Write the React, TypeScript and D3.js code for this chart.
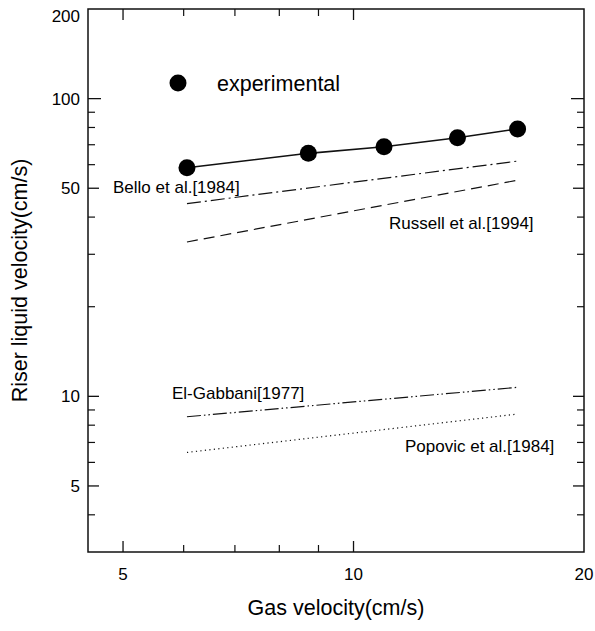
import React from "react";
import * as d3 from "d3";

const gasVelocity = [6.06, 8.73, 10.96, 13.67, 16.38];
const experimental = [58.6, 65.5, 68.9, 73.9, 79.1];

const lineX = [6.06, 16.38];
const bello = [44.4, 61.7];
const russell = [33.0, 53.2];
const elGabbani = [8.54, 10.72];
const popovic = [6.48, 8.72];

const xTickLabels = [5, 10, 20];
const xMinorTicks = [6, 7, 8, 9];
const yTickLabels = [5, 10, 50, 100, 200];
const yMinorTicks = [4, 6, 7, 8, 9, 20, 30, 40, 60, 70, 80, 90];

const W = 595;
const H = 631;
const M = { left: 88, top: 9, right: 11, bottom: 79 };
const FONT = "'Liberation Sans', Arial, Helvetica, sans-serif";

export default function App() {
  const x = d3.scaleLog().domain([4.5, 20]).range([M.left, W - M.right]);
  const y = d3.scaleLog().domain([3, 200]).range([H - M.bottom, M.top]);
  const x0 = M.left, x1 = W - M.right, y0 = H - M.bottom, y1 = M.top;

  const line = d3
    .line<[number, number]>()
    .x((d) => x(d[0]))
    .y((d) => y(d[1]));

  const pairs = (xs: number[], ys: number[]) => xs.map((v, i) => [v, ys[i]] as [number, number]);

  const curves = [
    { data: bello, dash: "14,4,2,4", label: "Bello et al.[1984]", lx: 113, ly: 193 },
    { data: russell, dash: "11,6", label: "Russell et al.[1994]", lx: 389, ly: 229 },
    { data: elGabbani, dash: "14,3,1.5,3,1.5,3", label: "El-Gabbani[1977]", lx: 172, ly: 399 },
    { data: popovic, dash: "1.2,3.3", label: "Popovic et al.[1984]", lx: 405, ly: 452 },
  ];

  const majorLen = 11;
  const minorLen = 7;
  const stroke = "#111";

  return (
    <svg width={W} height={H} style={{ display: "block", position: "absolute", left: 0, top: 0 }} fontFamily={FONT}>
      <rect x={0} y={0} width={W} height={H} fill="#fff" />
      {/* frame */}
      <rect x={x0} y={y1} width={x1 - x0} height={y0 - y1} fill="none" stroke={stroke} strokeWidth={1.5} />

      {/* x ticks */}
      {xTickLabels.filter((v) => v < 20).map((v) => (
        <g key={"xt" + v}>
          <line x1={x(v)} x2={x(v)} y1={y0} y2={y0 - majorLen} stroke={stroke} strokeWidth={1.3} />
          <line x1={x(v)} x2={x(v)} y1={y1} y2={y1 + majorLen} stroke={stroke} strokeWidth={1.3} />
        </g>
      ))}
      {xMinorTicks.map((v) => (
        <g key={"xm" + v}>
          <line x1={x(v)} x2={x(v)} y1={y0} y2={y0 - minorLen} stroke={stroke} strokeWidth={1.2} />
          <line x1={x(v)} x2={x(v)} y1={y1} y2={y1 + minorLen} stroke={stroke} strokeWidth={1.2} />
        </g>
      ))}
      {xTickLabels.map((v) => (
        <text key={"xl" + v} x={x(v)} y={580} textAnchor="middle" fontSize={17} fill="#000">
          {v}
        </text>
      ))}

      {/* y ticks */}
      {yTickLabels.filter((v) => v < 200).map((v) => (
        <g key={"yt" + v}>
          <line x1={x0} x2={x0 + (v === 100 ? 13 : majorLen)} y1={y(v)} y2={y(v)} stroke={stroke} strokeWidth={1.3} />
          <line x1={x1} x2={x1 - (v === 100 ? 13 : majorLen)} y1={y(v)} y2={y(v)} stroke={stroke} strokeWidth={1.3} />
        </g>
      ))}
      {yMinorTicks.map((v) => (
        <g key={"ym" + v}>
          <line x1={x0} x2={x0 + minorLen} y1={y(v)} y2={y(v)} stroke={stroke} strokeWidth={1.2} />
          <line x1={x1} x2={x1 - minorLen} y1={y(v)} y2={y(v)} stroke={stroke} strokeWidth={1.2} />
        </g>
      ))}
      {yTickLabels.map((v) => (
        <text key={"yl" + v} x={80} y={Math.max(y(v), 16) + 6} textAnchor="end" fontSize={17} fill="#000">
          {v}
        </text>
      ))}

      {/* axis titles */}
      <text x={(x0 + x1) / 2} y={615} textAnchor="middle" fontSize={21.5} fill="#000">
        Gas velocity(cm/s)
      </text>
      <text
        transform={`translate(27, ${(y0 + y1) / 2}) rotate(-90)`}
        textAnchor="middle"
        fontSize={21.5}
        fill="#000"
      >
        Riser liquid velocity(cm/s)
      </text>

      {/* correlation curves */}
      {curves.map((c) => (
        <g key={c.label}>
          <path d={line(pairs(lineX, c.data)) || ""} fill="none" stroke={stroke} strokeWidth={1.2} strokeDasharray={c.dash} />
          <text x={c.lx} y={c.ly} fontSize={17} fill="#000">
            {c.label}
          </text>
        </g>
      ))}

      {/* experimental */}
      <path d={line(pairs(gasVelocity, experimental)) || ""} fill="none" stroke={stroke} strokeWidth={1.6} />
      {gasVelocity.map((v, i) => (
        <circle key={"p" + i} cx={x(v)} cy={y(experimental[i])} r={8.5} fill="#000" />
      ))}

      {/* legend */}
      <circle cx={178} cy={83} r={8.5} fill="#000" />
      <text x={217} y={91} fontSize={21.5} fill="#000">
        experimental
      </text>
    </svg>
  );
}
